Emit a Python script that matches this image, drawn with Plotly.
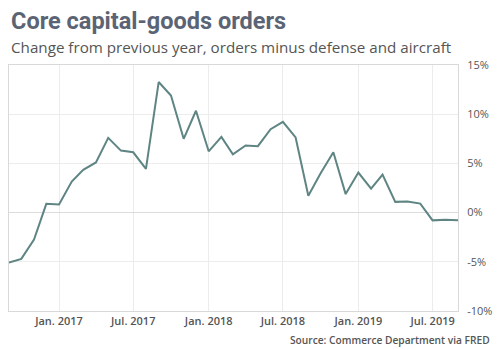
import plotly.graph_objects as go

months = ["2016-09-01","2016-10-01","2016-11-01","2016-12-01",
          "2017-01-01","2017-02-01","2017-03-01","2017-04-01","2017-05-01","2017-06-01",
          "2017-07-01","2017-08-01","2017-09-01","2017-10-01","2017-11-01","2017-12-01",
          "2018-01-01","2018-02-01","2018-03-01","2018-04-01","2018-05-01","2018-06-01",
          "2018-07-01","2018-08-01","2018-09-01","2018-10-01","2018-11-01","2018-12-01",
          "2019-01-01","2019-02-01","2019-03-01","2019-04-01","2019-05-01","2019-06-01",
          "2019-07-01","2019-08-01","2019-09-01"]
change_pct = [-5.08, -4.7, -2.75, 0.89,
              0.82, 3.15, 4.35, 5.1, 7.6, 6.3,
              6.13, 4.45, 13.27, 11.9, 7.5, 10.35,
              6.23, 7.7, 5.93, 6.82, 6.75, 8.47,
              9.22, 7.64, 1.71, 4.0, 6.13, 1.88,
              4.07, 2.43, 3.87, 1.09, 1.13, 0.92,
              -0.79, -0.72, -0.79]

x_tickvals = ["2017-01-01","2017-07-01","2018-01-01","2018-07-01","2019-01-01","2019-07-01"]
x_ticktext = ["Jan. 2017","Jul. 2017","Jan. 2018","Jul. 2018","Jan. 2019","Jul. 2019"]
y_tickvals = [-10, -5, 0, 5, 10, 15]
y_ticktext = ["-10%", "-5%", "0%", "5%", "10%", "15%"]

fig = go.Figure()
fig.add_trace(go.Scatter(x=months, y=change_pct, mode="lines",
                         line=dict(color="#5e8583", width=2), hoverinfo="skip"))

fig.update_layout(
    width=500, height=350,
    margin=dict(l=8, r=40, t=65, b=39),
    paper_bgcolor="white", plot_bgcolor="white",
    showlegend=False,
    font=dict(family="Open Sans", color="#555"),
    xaxis=dict(range=["2016-09-01", "2019-09-01"], tickvals=x_tickvals, ticktext=x_ticktext,
               showgrid=True, gridcolor="#ececec", gridwidth=1,
               showline=True, linecolor="#d9d9d9", mirror=True, linewidth=1,
               ticks="", tickfont=dict(size=11, color="#555", family="Open Sans", weight=600),
               zeroline=False),
    yaxis=dict(range=[-10, 15], tickvals=y_tickvals, ticktext=y_ticktext, side="right",
               showgrid=True, gridcolor="#ececec", gridwidth=1,
               showline=True, linecolor="#d9d9d9", mirror=True, linewidth=1,
               zeroline=True, zerolinecolor="#dcdcdc", zerolinewidth=1,
               ticks="", ticklabelstandoff=6,
               tickfont=dict(size=11, color="#555", family="Open Sans")),
    annotations=[
        dict(text="Core capital-goods orders", xref="paper", yref="paper", x=0, y=1.18,
             xanchor="left", yanchor="middle", showarrow=False,
             font=dict(family="Roboto", size=23.5, color="#5b6474", weight="bold")),
        dict(text="Change from previous year, orders minus defense and aircraft",
             xref="paper", yref="paper", x=0, y=1.073, xanchor="left", yanchor="middle",
             showarrow=False, font=dict(family="Open Sans", size=15.2, color="#555")),
        dict(text="Source: Commerce Department via FRED", xref="paper", yref="paper",
             x=1.075, y=-0.118, xanchor="right", yanchor="middle", showarrow=False,
             font=dict(family="Open Sans", size=10.2, color="#555", weight=600)),
    ],
)

fig.write_html("out.html")
